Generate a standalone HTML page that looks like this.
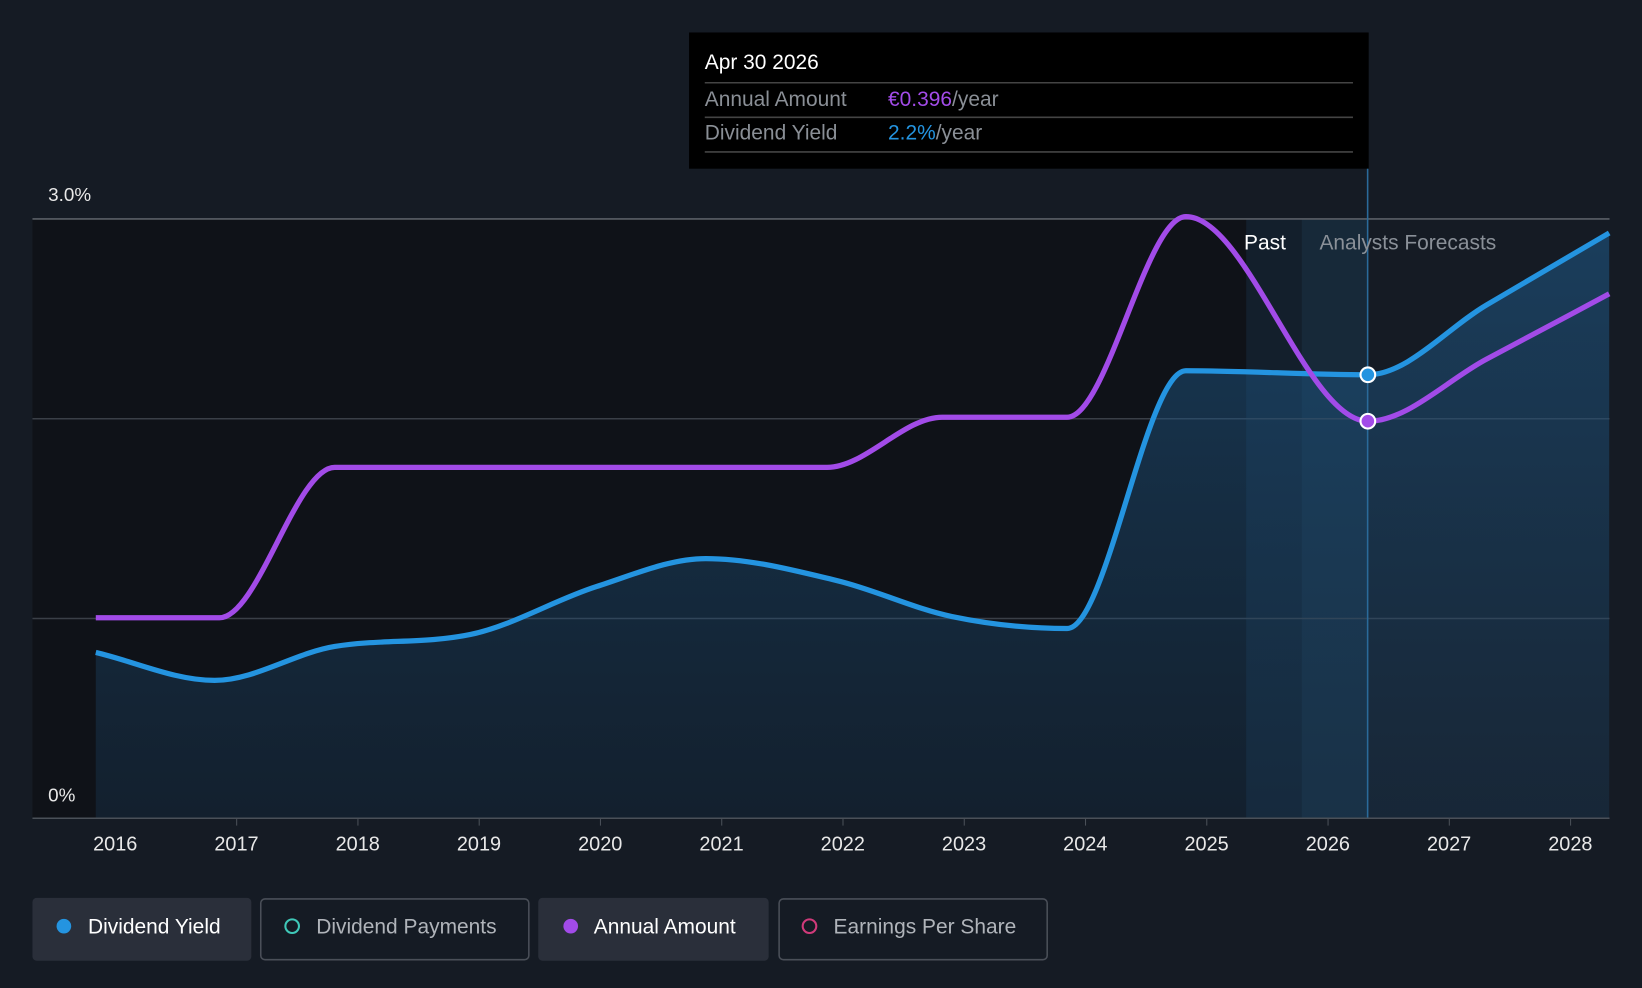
<!DOCTYPE html>
<html><head><meta charset="utf-8"><style>
html,body{margin:0;padding:0;background:#151b24;}
svg{display:block;font-family:"Liberation Sans",sans-serif;}
</style></head><body>
<svg width="1642" height="988" viewBox="0 0 1568 943" preserveAspectRatio="none" xmlns="http://www.w3.org/2000/svg">
<defs>
<linearGradient id="gf" x1="0" y1="0" x2="0" y2="1">
<stop offset="0" stop-color="#1e5a8a" stop-opacity="0.55"/>
<stop offset="1" stop-color="#1e4a70" stop-opacity="0.25"/>
</linearGradient>
</defs>
<rect x="0" y="0" width="1568" height="943" fill="#151b24"/>
<rect x="31" y="209" width="1275" height="572" fill="#0f1218"/>
<rect x="1190" y="209" width="53" height="572" fill="#15283a" opacity="0.6"/>
<rect x="1243" y="209" width="63" height="572" fill="#1b3347" opacity="0.7"/>
<g id="grid"></g>
<path id="area" fill="url(#gf)"/>
<path id="yline" fill="none" stroke="#2494e0" stroke-width="5"/>
<path id="aline" fill="none" stroke="#a24be8" stroke-width="5"/>
<line x1="1306" y1="160" x2="1306" y2="781" stroke="#2a6a9a" stroke-width="1.5"/>
<g id="dots"></g>
<text x="1228" y="238" text-anchor="end" fill="#ffffff" font-size="20">Past</text>
<text x="1260" y="238" fill="#8a9098" font-size="20">Analysts Forecasts</text>
<text x="46" y="192" fill="#e8e8e8" font-size="18">3.0%</text>
<text x="46" y="765" fill="#e8e8e8" font-size="18">0%</text>
<line x1="31" y1="781" x2="1537" y2="781" stroke="#4a5058" stroke-width="1.5"/>
<g id="xt"></g>
<g>
<rect x="658" y="31" width="649" height="130" fill="#000"/>
<text x="673" y="66" fill="#fff" font-size="20">Apr 30 2026</text>
<line x1="673" y1="79" x2="1292" y2="79" stroke="#444" stroke-width="1.5"/>
<text x="673" y="101" fill="#8a8f96" font-size="20">Annual Amount</text>
<text x="848" y="101" font-size="20"><tspan fill="#a24be8">€0.396</tspan><tspan fill="#8a8f96">/year</tspan></text>
<line x1="673" y1="112" x2="1292" y2="112" stroke="#444" stroke-width="1.5"/>
<text x="673" y="133" fill="#8a8f96" font-size="20">Dividend Yield</text>
<text x="848" y="133" font-size="20"><tspan fill="#2494e0">2.2%</tspan><tspan fill="#8a8f96">/year</tspan></text>
<line x1="673" y1="145" x2="1292" y2="145" stroke="#444" stroke-width="1.5"/>
</g>
<g>
<g><rect x="31" y="857" width="209" height="60" rx="4" fill="#2a2f3a"/><circle cx="61" cy="884" r="7" fill="#2494e0"/><text x="84" y="891" fill="#fff" font-size="20">Dividend Yield</text></g>
<g><rect x="249" y="858" width="256" height="58" rx="4" fill="none" stroke="#4a4f58" stroke-width="1.5"/><circle cx="279" cy="884" r="6.5" fill="none" stroke="#3fc8b8" stroke-width="2"/><text x="302" y="891" fill="#b0b4ba" font-size="20">Dividend Payments</text></g>
<g><rect x="514" y="857" width="220" height="60" rx="4" fill="#2a2f3a"/><circle cx="545" cy="884" r="7" fill="#a24be8"/><text x="567" y="891" fill="#fff" font-size="20">Annual Amount</text></g>
<g><rect x="744" y="858" width="256" height="58" rx="4" fill="none" stroke="#4a4f58" stroke-width="1.5"/><circle cx="773" cy="884" r="6.5" fill="none" stroke="#d03a7a" stroke-width="2"/><text x="796" y="891" fill="#b0b4ba" font-size="20">Earnings Per Share</text></g>
</g>
</svg>
<script>
const yieldYears=[2015.84,2016.82,2017.81,2018.93,2019.97,2020.87,2021.95,2022.90,2023.85,2024.83,2026.33,2027.31,2028.32];
const yieldValues=[0.83,0.69,0.86,0.92,1.16,1.30,1.19,1.01,0.95,2.24,2.22,2.57,2.93];
const amountYears=[2015.84,2016.86,2017.81,2021.87,2022.82,2023.85,2024.83,2026.33,2027.31,2028.32];
const amountValues=[0.2,0.2,0.35,0.35,0.40,0.40,0.60,0.396,0.458,0.523];
const xTickLabels=[2016,2017,2018,2019,2020,2021,2022,2023,2024,2025,2026,2027,2028];
const gridValues=[1,2,3];
const NS='http://www.w3.org/2000/svg';
const xs=y=>110+(y-2016)*115.8;
const ys=v=>781-v*190.67;
const ya=v=>781-v*957;
function mono(px,py){
 const n=px.length,d=[],m=[];
 for(let i=0;i<n-1;i++)d.push((py[i+1]-py[i])/(px[i+1]-px[i]));
 for(let i=0;i<n;i++){
  if(i==0)m.push(d[0]);else if(i==n-1)m.push(d[n-2]);
  else m.push(d[i-1]*d[i]<=0?0:(d[i-1]+d[i])/2);
 }
 for(let i=0;i<n-1;i++){
  if(d[i]==0){m[i]=0;m[i+1]=0;continue;}
  const a=m[i]/d[i],b=m[i+1]/d[i];const s=a*a+b*b;
  if(s>9){const t=3/Math.sqrt(s);m[i]=t*a*d[i];m[i+1]=t*b*d[i];}
 }
 let p='M'+px[0]+','+py[0];
 for(let i=0;i<n-1;i++){const h=(px[i+1]-px[i])/3;
  p+=' C'+(px[i]+h)+','+(py[i]+m[i]*h)+' '+(px[i+1]-h)+','+(py[i+1]-m[i+1]*h)+' '+px[i+1]+','+py[i+1];}
 return p;
}
const bx=yieldYears.map(xs),by=yieldValues.map(ys);
const yp=mono(bx,by);
document.getElementById('yline').setAttribute('d',yp);
document.getElementById('area').setAttribute('d',yp+' L'+bx[bx.length-1]+',781 L'+bx[0]+',781 Z');
const axp=amountYears.map(xs),ayp=amountValues.map(ya);
document.getElementById('aline').setAttribute('d',mono(axp,ayp));
const g=document.getElementById('grid');
gridValues.forEach(v=>{const l=document.createElementNS(NS,'line');


l.setAttribute('x1',31);l.setAttribute('x2',1537);l.setAttribute('y1',ys(v));l.setAttribute('y2',ys(v));
l.setAttribute('stroke',v==3?'#5a5f66':'#3a3f47');l.setAttribute('stroke-width',1.5);g.appendChild(l);});
const xt=document.getElementById('xt');
xTickLabels.forEach(y=>{const l=document.createElementNS(NS,'line');


l.setAttribute('x1',xs(y)+116);l.setAttribute('x2',xs(y)+116);l.setAttribute('y1',781);l.setAttribute('y2',788);
l.setAttribute('stroke','#4a5058');xt.appendChild(l);
const t=document.createElementNS(NS,'text');


t.setAttribute('x',xs(y));t.setAttribute('y',812);t.setAttribute('text-anchor','middle');
t.setAttribute('fill','#e8e8e8');t.setAttribute('font-size',19);t.textContent=y;xt.appendChild(t);});
const dots=document.getElementById('dots');
[[xs(2026.33),ys(2.22),'#2494e0'],[xs(2026.33),ya(0.396),'#a24be8']].forEach(([cx,cy,c])=>{
const ci=document.createElementNS(NS,'circle');


ci.setAttribute('cx',cx);ci.setAttribute('cy',cy);ci.setAttribute('r',7);ci.setAttribute('fill',c);
ci.setAttribute('stroke','#fff');ci.setAttribute('stroke-width',2);dots.appendChild(ci);});
</script>
</body></html>
